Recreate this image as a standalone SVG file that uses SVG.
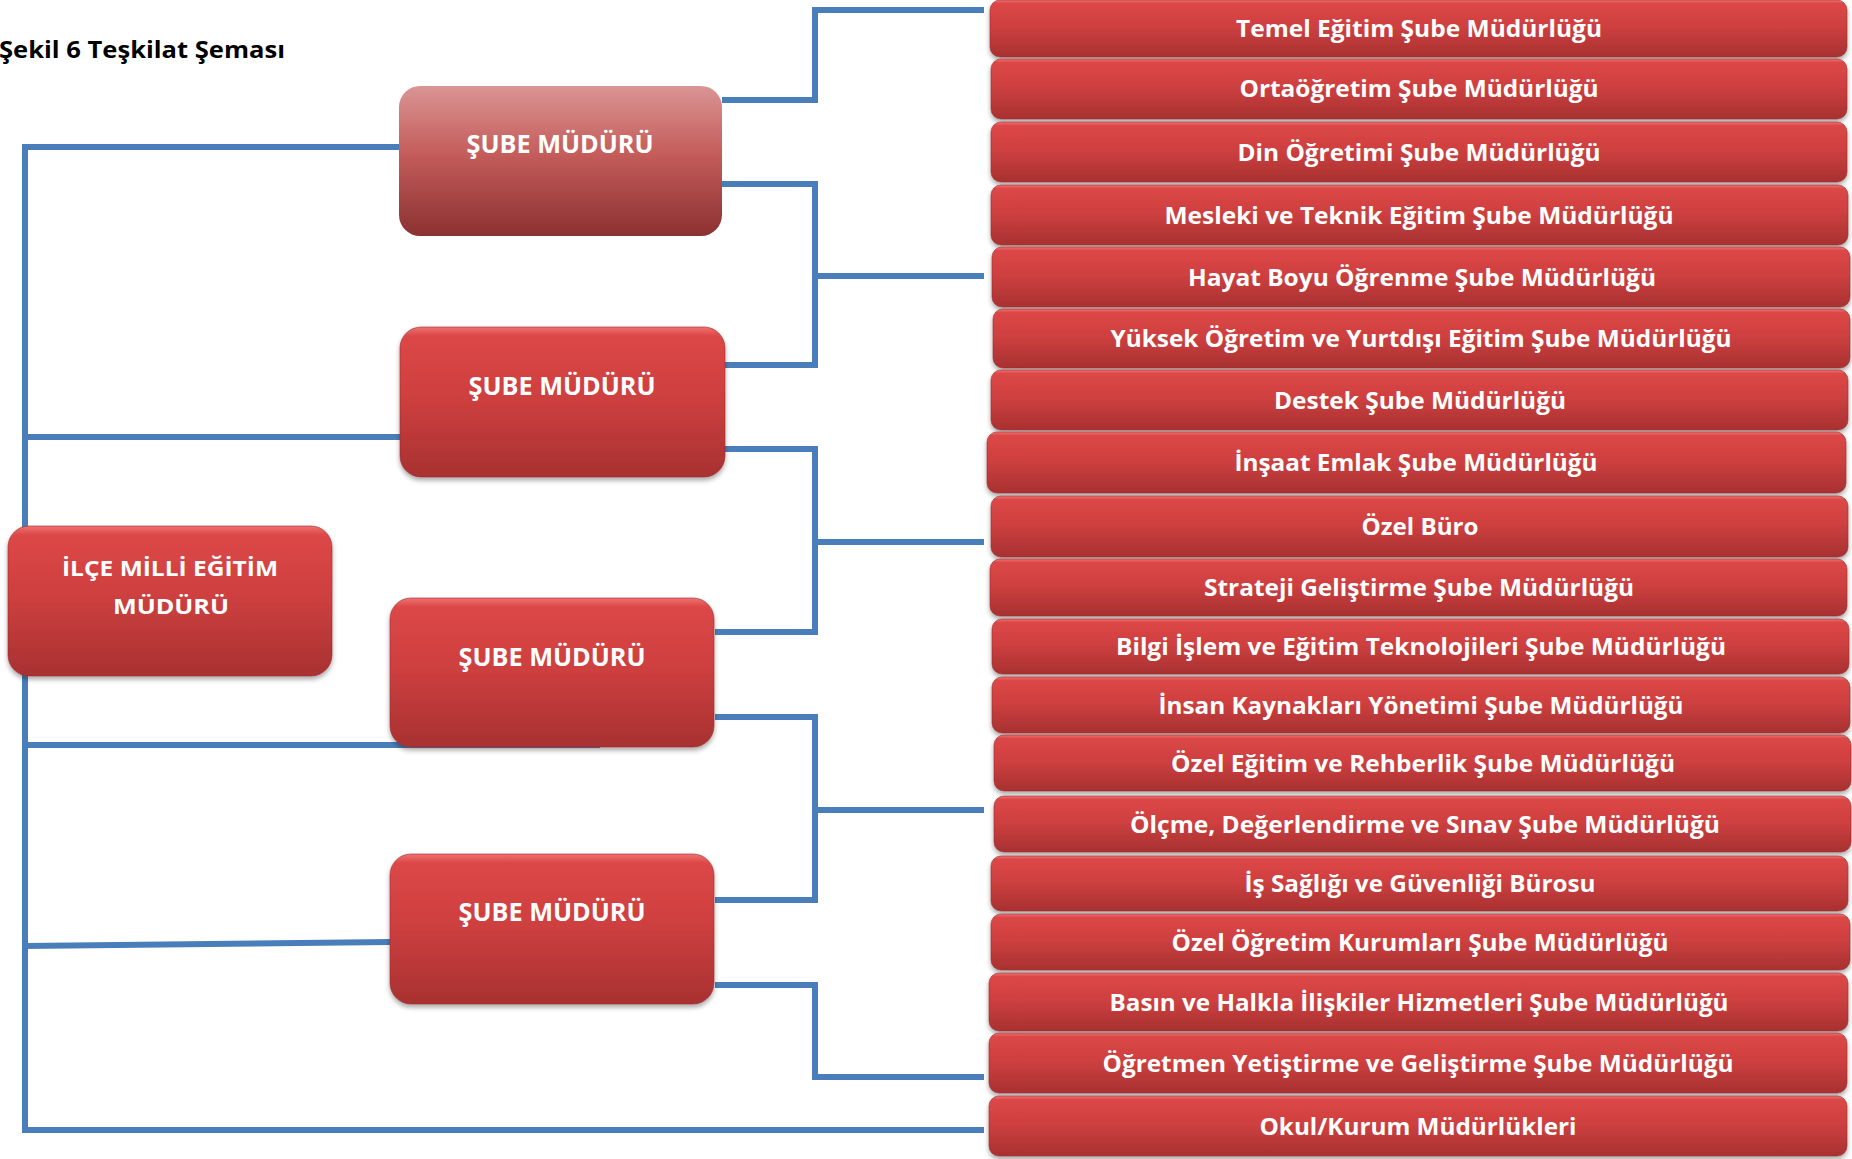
<svg xmlns="http://www.w3.org/2000/svg" width="1852" height="1159" viewBox="0 0 1852 1159">
<style>
.t{font-family:"Open Sans","Liberation Sans",sans-serif;font-weight:bold;fill:#ffffff;text-anchor:middle}
.r{font-size:23px}
.m{font-size:25px}
.i{font-size:22px}
.title{font-family:"Open Sans","Liberation Sans",sans-serif;font-weight:bold;font-size:22.5px;fill:#000000}
.box{fill:url(#red);stroke:#9a2d2d;stroke-width:1;stroke-opacity:0.6;filter:url(#sh)}
.conn{fill:none;stroke:#4a7ebb;stroke-width:6;stroke-linejoin:miter;stroke-linecap:butt}
</style>
<defs>
<linearGradient id="red" x1="0" y1="0" x2="0" y2="1">
<stop offset="0" stop-color="#f07272"/>
<stop offset="0.06" stop-color="#dc4747"/>
<stop offset="0.45" stop-color="#cf4040"/>
<stop offset="1" stop-color="#a83131"/>
</linearGradient>
<linearGradient id="pink" x1="0" y1="0" x2="0" y2="1">
<stop offset="0" stop-color="#d99594"/>
<stop offset="0.45" stop-color="#c45d5b"/>
<stop offset="1" stop-color="#8b3131"/>
</linearGradient>
<filter id="sh" x="-5%" y="-10%" width="110%" height="130%">
<feDropShadow dx="0" dy="3" stdDeviation="2.5" flood-color="#000" flood-opacity="0.35"/>
</filter>
</defs>
<rect width="1852" height="1159" fill="#ffffff"/>
<text class="title" x="-1" y="58" textLength="286" lengthAdjust="spacingAndGlyphs">Şekil 6 Teşkilat Şeması</text>
<g id="connectors">
<path class="conn" d="M399,147 H25 V1130 H984"/>
<path class="conn" d="M25,437 H400"/>
<path class="conn" d="M25,745 H600"/>
<path class="conn" d="M25,946 L390,942"/>
<path class="conn" d="M722,100 H815 V10 H984"/>
<path class="conn" d="M722,184 H815 V365 H725"/>
<path class="conn" d="M815,276 H984"/>
<path class="conn" d="M725,449 H815 V632 H715"/>
<path class="conn" d="M815,542 H984"/>
<path class="conn" d="M715,717 H815 V900 H715"/>
<path class="conn" d="M815,810 H984"/>
<path class="conn" d="M715,985 H815 V1077 H984"/>
</g>
<g id="n-sube1">
<rect x="399" y="86" width="323" height="150" rx="21" fill="url(#pink)"/>
<text class="t m" x="560" y="153" textLength="187" lengthAdjust="spacingAndGlyphs">ŞUBE MÜDÜRÜ</text>
</g>
<g id="n-sube2">
<rect class="box" x="400" y="327" width="325" height="150" rx="21"/>
<text class="t m" x="562" y="395" textLength="187" lengthAdjust="spacingAndGlyphs">ŞUBE MÜDÜRÜ</text>
</g>
<g id="n-sube3">
<rect class="box" x="390" y="598" width="324" height="149" rx="21"/>
<text class="t m" x="552" y="666" textLength="187" lengthAdjust="spacingAndGlyphs">ŞUBE MÜDÜRÜ</text>
</g>
<g id="n-sube4">
<rect class="box" x="390" y="854" width="324" height="150" rx="21"/>
<text class="t m" x="552" y="921" textLength="187" lengthAdjust="spacingAndGlyphs">ŞUBE MÜDÜRÜ</text>
</g>
<g id="n-ilce">
<rect class="box" x="8" y="526" width="324" height="150" rx="21"/>
<text class="t i" x="170" y="576" textLength="216" lengthAdjust="spacingAndGlyphs">İLÇE MİLLİ EĞİTİM</text>
<text class="t i" x="171" y="614" textLength="116" lengthAdjust="spacingAndGlyphs">MÜDÜRÜ</text>
</g>
<g id="n-temel"><rect class="box" x="990" y="0" width="857" height="57" rx="10"/><text class="t r" x="1419" y="37" textLength="366" lengthAdjust="spacingAndGlyphs">Temel Eğitim Şube Müdürlüğü</text></g>
<g id="n-orta"><rect class="box" x="991" y="59" width="856" height="60" rx="10"/><text class="t r" x="1419" y="97" textLength="359" lengthAdjust="spacingAndGlyphs">Ortaöğretim Şube Müdürlüğü</text></g>
<g id="n-din"><rect class="box" x="991" y="122" width="856" height="60" rx="10"/><text class="t r" x="1419" y="161" textLength="363" lengthAdjust="spacingAndGlyphs">Din Öğretimi Şube Müdürlüğü</text></g>
<g id="n-mesleki"><rect class="box" x="991" y="185" width="857" height="60" rx="10"/><text class="t r" x="1419" y="224" textLength="509" lengthAdjust="spacingAndGlyphs">Mesleki ve Teknik Eğitim Şube Müdürlüğü</text></g>
<g id="n-hayat"><rect class="box" x="992" y="247" width="858" height="60" rx="10"/><text class="t r" x="1422" y="286" textLength="468" lengthAdjust="spacingAndGlyphs">Hayat Boyu Öğrenme Şube Müdürlüğü</text></g>
<g id="n-yuksek"><rect class="box" x="993" y="309" width="857" height="59" rx="10"/><text class="t r" x="1421" y="347" textLength="621" lengthAdjust="spacingAndGlyphs">Yüksek Öğretim ve Yurtdışı Eğitim Şube Müdürlüğü</text></g>
<g id="n-destek"><rect class="box" x="991" y="370" width="857" height="60" rx="10"/><text class="t r" x="1420" y="409" textLength="292" lengthAdjust="spacingAndGlyphs">Destek Şube Müdürlüğü</text></g>
<g id="n-insaat"><rect class="box" x="987" y="432" width="859" height="61" rx="10"/><text class="t r" x="1416" y="471" textLength="363" lengthAdjust="spacingAndGlyphs">İnşaat Emlak Şube Müdürlüğü</text></g>
<g id="n-ozelburo"><rect class="box" x="991" y="496" width="857" height="61" rx="10"/><text class="t r" x="1420" y="535" textLength="117" lengthAdjust="spacingAndGlyphs">Özel Büro</text></g>
<g id="n-strateji"><rect class="box" x="990" y="559" width="857" height="57" rx="10"/><text class="t r" x="1419" y="596" textLength="430" lengthAdjust="spacingAndGlyphs">Strateji Geliştirme Şube Müdürlüğü</text></g>
<g id="n-bilgi"><rect class="box" x="992" y="619" width="857" height="55" rx="10"/><text class="t r" x="1421" y="655" textLength="610" lengthAdjust="spacingAndGlyphs">Bilgi İşlem ve Eğitim Teknolojileri Şube Müdürlüğü</text></g>
<g id="n-insan"><rect class="box" x="992" y="677" width="858" height="56" rx="10"/><text class="t r" x="1421" y="714" textLength="525" lengthAdjust="spacingAndGlyphs">İnsan Kaynakları Yönetimi Şube Müdürlüğü</text></g>
<g id="n-ozelegitim"><rect class="box" x="994" y="735" width="857" height="56" rx="10"/><text class="t r" x="1423" y="772" textLength="504" lengthAdjust="spacingAndGlyphs">Özel Eğitim ve Rehberlik Şube Müdürlüğü</text></g>
<g id="n-olcme"><rect class="box" x="994" y="796" width="857" height="56" rx="10"/><text class="t r" x="1425" y="833" textLength="590" lengthAdjust="spacingAndGlyphs">Ölçme, Değerlendirme ve Sınav Şube Müdürlüğü</text></g>
<g id="n-is"><rect class="box" x="991" y="856" width="857" height="55" rx="10"/><text class="t r" x="1420" y="892" textLength="351" lengthAdjust="spacingAndGlyphs">İş Sağlığı ve Güvenliği Bürosu</text></g>
<g id="n-ozelogretim"><rect class="box" x="991" y="914" width="859" height="56" rx="10"/><text class="t r" x="1420" y="951" textLength="497" lengthAdjust="spacingAndGlyphs">Özel Öğretim Kurumları Şube Müdürlüğü</text></g>
<g id="n-basin"><rect class="box" x="989" y="973" width="859" height="58" rx="10"/><text class="t r" x="1419" y="1011" textLength="619" lengthAdjust="spacingAndGlyphs">Basın ve Halkla İlişkiler Hizmetleri Şube Müdürlüğü</text></g>
<g id="n-ogretmen"><rect class="box" x="989" y="1033" width="858" height="60" rx="10"/><text class="t r" x="1418" y="1072" textLength="631" lengthAdjust="spacingAndGlyphs">Öğretmen Yetiştirme ve Geliştirme Şube Müdürlüğü</text></g>
<g id="n-okul"><rect class="box" x="989" y="1096" width="858" height="60" rx="10"/><text class="t r" x="1418" y="1135" textLength="317" lengthAdjust="spacingAndGlyphs">Okul/Kurum Müdürlükleri</text></g>
</svg>
